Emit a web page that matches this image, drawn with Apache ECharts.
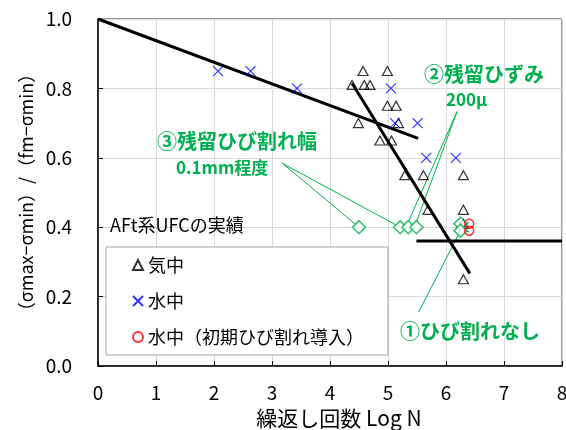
<!DOCTYPE html>
<html>
<head>
<meta charset="utf-8">
<script src="https://cdn.jsdelivr.net/npm/echarts@6/dist/echarts.min.js"></script>
<style>
  html, body { margin: 0; padding: 0; background: #fff; }
  #main { width: 566px; height: 430px; }
</style>
</head>
<body>
<div id="main"></div>
<script>
var FONT = '"Noto Sans CJK JP", "Noto Sans", sans-serif';
var GREEN = '#00b050';

// 気中 (△)
var airData = [
  [4.57, 0.85], [4.99, 0.85], [4.38, 0.81], [4.59, 0.81], [4.69, 0.81],
  [4.99, 0.75], [5.14, 0.75], [4.49, 0.70], [5.18, 0.70], [4.86, 0.65],
  [5.06, 0.65], [5.29, 0.55], [5.61, 0.55], [6.30, 0.55], [5.69, 0.45],
  [6.30, 0.45], [6.30, 0.41], [6.30, 0.25]
];
// 水中 (×)
var waterData = [
  [2.07, 0.85], [2.63, 0.85], [3.43, 0.80], [5.05, 0.80], [5.12, 0.70],
  [5.51, 0.70], [5.66, 0.60], [6.17, 0.60], [6.30, 0.40]
];
// 水中(初期ひび割れ導入) (○)
var crackData = [[6.40, 0.41], [6.40, 0.39]];

// 近似線
var fitLines = [
  [[0, 1.0], [5.52, 0.656]],
  [[4.38, 0.815], [6.41, 0.267]],
  [[5.49, 0.36], [8, 0.36]]
];

// AFt系UFCの実績 (◇) と引出し線
var uhpcData = [[4.50, 0.40], [5.21, 0.40], [5.35, 0.40], [5.49, 0.40], [6.25, 0.41], [6.25, 0.39]];
var leaders = [
  [[3.18, 0.584], [4.50, 0.40]],
  [[3.18, 0.584], [5.21, 0.40]],
  [[6.19, 0.733], [5.35, 0.415]],
  [[6.19, 0.733], [5.49, 0.415]],
  [[5.53, 0.156], [6.25, 0.39]]
];

var xTicks = [0, 1, 2, 3, 4, 5, 6, 7, 8];
var yTicks = [0, 0.2, 0.4, 0.6, 0.8, 1.0];

var chart = echarts.init(document.getElementById('main'), null, { renderer: 'canvas' });

var series = [];

leaders.forEach(function (seg) {
  series.push({
    type: 'line', data: seg, symbol: 'none', silent: true, z: 3,
    lineStyle: { color: GREEN, width: 1 }
  });
});

fitLines.forEach(function (seg) {
  series.push({
    type: 'line', data: seg, symbol: 'none', silent: true, z: 4,
    lineStyle: { color: '#000', width: 3 }
  });
});

series.push({
  name: '気中', type: 'scatter', data: airData, symbol: 'triangle', symbolSize: [10, 9], z: 5,
  itemStyle: { color: 'transparent', borderColor: '#000', borderWidth: 1.2 }
});
series.push({
  name: '水中', type: 'scatter', data: waterData, symbol: 'path://M0,0L10,10M10,0L0,10', symbolSize: 10, z: 5,
  itemStyle: { color: 'transparent', borderColor: '#0000ff', borderWidth: 1.2 }
});
series.push({
  name: 'AFt', type: 'scatter', data: uhpcData, symbol: 'diamond', symbolSize: 13, z: 6,
  itemStyle: { color: '#fff', borderColor: GREEN, borderWidth: 1.6 }
});
series.push({
  name: '水中（初期ひび割れ導入）', type: 'scatter', data: crackData, symbol: 'circle', symbolSize: 9, z: 7,
  itemStyle: { color: 'transparent', borderColor: '#ff0000', borderWidth: 1.5 }
});

var option = {
  backgroundColor: '#fff',
  animation: false,
  textStyle: { fontFamily: FONT },
  grid: {
    left: 98, right: 4, top: 19, bottom: 64,
    outerBoundsMode: 'none',
    show: true, borderColor: '#333', borderWidth: 1
  },
  xAxis: {
    type: 'value', min: 0, max: 8, interval: 1,
    name: '繰返し回数 Log N', nameLocation: 'middle', nameGap: 42,
    nameTextStyle: { fontSize: 21, color: '#000', fontFamily: FONT, padding: [0, 0, 0, 18] },
    axisLine: { lineStyle: { color: '#000', width: 1.5 } },
    axisTick: { inside: true, length: 5, lineStyle: { color: '#000' } },
    axisLabel: { fontSize: 19, color: '#000', margin: 17, fontFamily: FONT },
    splitLine: { lineStyle: { color: '#d9d9d9' } }
  },
  yAxis: {
    type: 'value', min: 0, max: 1, interval: 0.2,
    name: '（σmax−σmin）/（fm−σmin）', nameLocation: 'middle', nameGap: 62, nameRotate: 90,
    nameTextStyle: { fontSize: 18, color: '#000', fontFamily: FONT },
    axisLine: { lineStyle: { color: '#000', width: 1.5 } },
    axisTick: { inside: true, length: 5, lineStyle: { color: '#000' } },
    axisLabel: {
      fontSize: 19, color: '#000', margin: 26, fontFamily: FONT,
      formatter: function (v) { return v.toFixed(1); }
    },
    splitLine: { lineStyle: { color: '#d9d9d9' } }
  },
  legend: {
    data: ['気中', '水中', '水中（初期ひび割れ導入）'],
    orient: 'vertical', left: 106, top: 247,
    padding: [8, 24, 8, 26], itemGap: 16,
    itemWidth: 10, itemHeight: 10,
    backgroundColor: '#fff', borderColor: '#a6a6a6', borderWidth: 1,
    textStyle: { fontSize: 18, color: '#000', fontFamily: FONT, lineHeight: 20 }
  },
  graphic: [
    { type: 'text', left: 110, top: 216, z: 10,
      style: { text: 'AFt系UFCの実績', fontSize: 18, fill: '#000', fontFamily: FONT } },
    { type: 'text', left: 424, top: 64, z: 10,
      style: { text: '②残留ひずみ', fontSize: 20, fontWeight: 'bold', fill: GREEN, fontFamily: FONT } },
    { type: 'text', left: 446, top: 91, z: 10,
      style: { text: '200μ', fontSize: 17, fontWeight: 'bold', fill: GREEN, fontFamily: FONT } },
    { type: 'text', left: 157, top: 131, z: 10,
      style: { text: '③残留ひび割れ幅', fontSize: 20, fontWeight: 'bold', fill: GREEN, fontFamily: FONT } },
    { type: 'text', left: 176, top: 159, z: 10,
      style: { text: '0.1mm程度', fontSize: 17, fontWeight: 'bold', fill: GREEN, fontFamily: FONT } },
    { type: 'text', left: 400, top: 321, z: 10,
      style: { text: '①ひび割れなし', fontSize: 20, fontWeight: 'bold', fill: GREEN, fontFamily: FONT } }
  ],
  series: series
};

chart.setOption(option);
</script>
</body>
</html>
